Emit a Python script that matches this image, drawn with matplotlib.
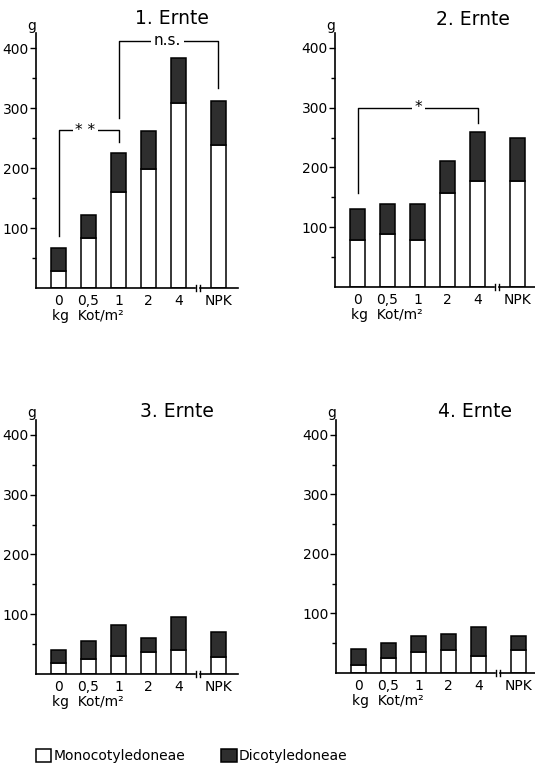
import matplotlib
matplotlib.use("Agg")
import matplotlib.pyplot as plt
from matplotlib.patches import Patch

plt.rcParams['font.family'] = ['DejaVu Sans']

# x categories (NPK set apart behind an axis break)
categories = ["0", "0,5", "1", "2", "4", "NPK"]
positions = [0, 1, 2, 3, 4, 5.33]

titles = ["1. Ernte", "2. Ernte", "3. Ernte", "4. Ernte"]

# Monocotyledoneae part and total height of each bar (g)
mono_1 = [29, 84, 160, 199, 308, 239]
total_1 = [66, 121, 225, 262, 384, 311]
mono_2 = [78, 88, 78, 158, 178, 178]
total_2 = [130, 139, 139, 210, 260, 249]
mono_3 = [19, 25, 30, 36, 40, 29]
total_3 = [40, 55, 82, 61, 96, 71]
mono_4 = [14, 25, 35, 39, 29, 39]
total_4 = [41, 50, 62, 66, 77, 62]

monos = [mono_1, mono_2, mono_3, mono_4]
totals = [total_1, total_2, total_3, total_4]

# significance brackets: (left x, right x, left leg foot, top, right leg foot, label, label x)
brackets = [
    [(0, 2, 86, 263, 243, "* *", 0.9), (2, 5.33, 284, 412, 334, "n.s.", 3.62)],
    [(0, 4, 157, 300, 275, "*", 2.03)],
    [],
    [],
]

W, H = 535, 770
fig = plt.figure(figsize=(W / 100, H / 100), dpi=100)

# axes boxes in pixels: left, top, right, bottom
boxes = [(36, 33, 238, 288), (335, 33, 535, 287), (36, 420, 238, 674), (336, 420, 535, 673)]
title_pos = [(0.673, 1.055), (0.69, 1.055), (0.70, 1.035), (0.70, 1.035)]

dark = "#2e2e2e"
brk = 4.63

for i, (l, t, r, b) in enumerate(boxes):
    ax = fig.add_axes([l / W, 1 - b / H, (r - l) / W, (b - t) / H])
    mono = monos[i]
    dicot = [tt - m for tt, m in zip(totals[i], mono)]
    ax.bar(positions, mono, width=0.52, color="white", edgecolor="black", linewidth=1.1)
    ax.bar(positions, dicot, bottom=mono, width=0.52, color=dark, edgecolor="black", linewidth=1.1)

    ax.set_ylim(0, 425)
    ax.set_xlim(-0.75, -0.75 + (r - l) / 30)
    for s in ["top", "right", "bottom"]:
        ax.spines[s].set_visible(False)
    ax.spines["left"].set_linewidth(1.2)

    # broken x axis
    x0, x1 = ax.get_xlim()
    ax.plot([x0, brk - 0.09], [0, 0], color="black", lw=1.2, clip_on=False)
    ax.plot([brk + 0.1, x1], [0, 0], color="black", lw=1.2, clip_on=False)
    for bx in (brk - 0.05, brk + 0.07):
        ax.plot([bx, bx], [-5, 5], color="black", lw=1.0, clip_on=False)

    ax.set_yticks([100, 200, 300, 400])
    ax.set_yticks([50, 150, 250, 350], minor=True)
    ax.tick_params(axis="y", which="major", length=4, width=1.0, labelsize=10, pad=1)
    ax.tick_params(axis="y", which="minor", length=3, width=1.0)
    ax.set_xticks(positions, categories)
    ax.tick_params(axis="x", length=0, labelsize=10, pad=4)

    ax.text(-0.02, 1.0, "g", transform=ax.transAxes, ha="center", va="bottom", fontsize=10)
    ax.text(title_pos[i][0], title_pos[i][1], titles[i], transform=ax.transAxes,
            ha="center", va="center", fontsize=13.5)
    ax.text(0.97, -0.11, "kg  Kot/m²", ha="center", va="center", fontsize=10,
            transform=ax.get_xaxis_transform())

    for (xa, xb, ya, top, yb, lab, lx) in brackets[i]:
        ax.plot([xa, xa, xb, xb], [ya, top, top, yb], color="black", lw=1.0, clip_on=False)
        ax.text(lx, top, lab, ha="center", va="center", fontsize=11,
                bbox=dict(facecolor="white", edgecolor="none", pad=2))

handles = [Patch(facecolor="white", edgecolor="black", linewidth=1.1),
           Patch(facecolor=dark, edgecolor="black", linewidth=1.1)]
fig.legend(handles, ["Monocotyledoneae", "Dicotyledoneae"], loc="center left",
           bbox_to_anchor=(36 / W, 1 - 756 / H), ncol=2, frameon=False, fontsize=10,
           handlelength=1.1, handleheight=1.1, handletextpad=0.15, columnspacing=2.6,
           borderpad=0, borderaxespad=0)

fig.savefig("out.png", dpi=100)
